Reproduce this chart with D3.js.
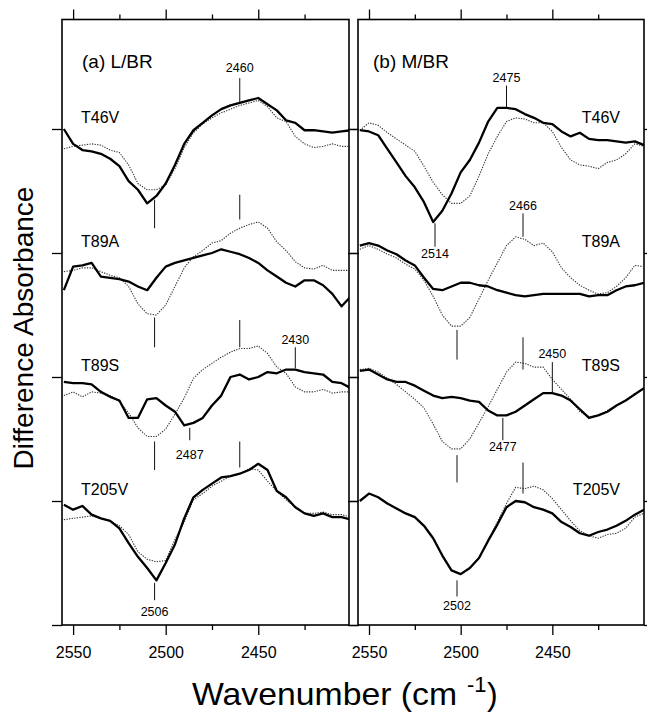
<!DOCTYPE html>
<html>
<head>
<meta charset="utf-8">
<script src="https://cdn.jsdelivr.net/npm/d3@7"></script>
<style>
body{margin:0;background:#fff;}
text{font-family:"Liberation Sans",Arial,Helvetica,sans-serif;fill:#000;}
</style>
</head>
<body>
<div id="chart"></div>
<script>
// wavenumber grid shared by every trace (cm-1)
const wavenumbers = [2555,2550,2545,2540,2535,2530,2525,2520,2515,2510,2505,2500,2495,2490,2485,2480,
                     2475,2470,2465,2460,2455,2450,2445,2440,2435,2430,2425,2420,2415,2410,2405,2400];
const mutants = ["T46V","T89A","T89S","T205V"];
const offsets = [4,3,2,1];
const majorTicks = [2550,2500,2450];
const minorTicks = [2525,2475,2425];

// (a) L/BR, thick solid and thin dotted traces (difference absorbance, one tick = 1 unit)
const lbr_T46V_solid  = [0.00,-0.12,-0.17,-0.18,-0.20,-0.24,-0.30,-0.42,-0.49,-0.60,-0.54,-0.44,-0.29,-0.12,-0.01,0.05,0.11,0.16,0.19,0.21,0.23,0.25,0.20,0.15,0.07,0.05,-0.01,-0.01,-0.02,-0.03,-0.02,-0.01];
const lbr_T46V_dotted = [-0.16,-0.14,-0.13,-0.12,-0.13,-0.17,-0.19,-0.29,-0.44,-0.49,-0.49,-0.45,-0.32,-0.15,-0.03,0.04,0.09,0.13,0.16,0.19,0.21,0.23,0.18,0.09,0.06,-0.06,-0.12,-0.15,-0.14,-0.12,-0.14,-0.14];
const lbr_T89A_solid  = [-0.30,-0.11,-0.10,-0.08,-0.19,-0.20,-0.21,-0.23,-0.27,-0.30,-0.20,-0.11,-0.08,-0.06,-0.04,-0.02,0.00,0.03,0.01,-0.01,-0.04,-0.08,-0.14,-0.19,-0.24,-0.27,-0.22,-0.22,-0.26,-0.33,-0.43,-0.35];
const lbr_T89A_dotted = [-0.15,-0.14,-0.12,-0.12,-0.15,-0.18,-0.20,-0.27,-0.41,-0.49,-0.50,-0.42,-0.27,-0.12,-0.03,0.02,0.08,0.10,0.16,0.20,0.23,0.25,0.20,0.09,0.02,-0.07,-0.12,-0.13,-0.10,-0.14,-0.14,-0.14];
const lbr_T89S_solid  = [-0.04,-0.05,-0.05,-0.06,-0.12,-0.16,-0.19,-0.33,-0.33,-0.18,-0.17,-0.23,-0.28,-0.39,-0.37,-0.33,-0.23,-0.15,0.00,0.02,-0.02,0.00,0.04,0.03,0.06,0.06,0.04,0.03,0.02,-0.04,-0.05,-0.09];
const lbr_T89S_dotted = [-0.15,-0.12,-0.16,-0.12,-0.13,-0.15,-0.20,-0.29,-0.41,-0.48,-0.48,-0.42,-0.30,-0.17,-0.01,0.06,0.11,0.16,0.20,0.23,0.23,0.25,0.19,0.08,0.03,-0.08,-0.12,-0.12,-0.10,-0.13,-0.12,-0.12];
const lbr_T205V_solid = [-0.03,-0.07,-0.04,-0.11,-0.14,-0.16,-0.22,-0.34,-0.45,-0.54,-0.64,-0.50,-0.35,-0.14,0.03,0.09,0.14,0.19,0.20,0.22,0.25,0.30,0.25,0.08,0.03,-0.05,-0.10,-0.12,-0.10,-0.13,-0.13,-0.15];
const lbr_T205V_dotted= [-0.15,-0.14,-0.13,-0.12,-0.14,-0.16,-0.20,-0.27,-0.41,-0.47,-0.49,-0.48,-0.31,-0.17,0.01,0.06,0.12,0.16,0.20,0.22,0.26,0.25,0.16,0.08,0.01,-0.05,-0.10,-0.10,-0.09,-0.11,-0.11,-0.13];

// (b) M/BR
const mbr_T46V_solid  = [-0.01,-0.02,-0.05,-0.16,-0.27,-0.38,-0.47,-0.59,-0.75,-0.66,-0.52,-0.35,-0.25,-0.11,0.06,0.17,0.17,0.16,0.12,0.09,0.05,0.04,-0.02,-0.06,-0.03,-0.08,-0.09,-0.09,-0.10,-0.11,-0.10,-0.13];
const mbr_T46V_dotted = [-0.01,0.05,0.03,-0.03,-0.08,-0.13,-0.18,-0.30,-0.43,-0.53,-0.60,-0.60,-0.54,-0.38,-0.20,-0.06,0.06,0.09,0.08,0.05,0.05,-0.02,-0.15,-0.25,-0.29,-0.30,-0.32,-0.27,-0.25,-0.20,-0.12,-0.14];
const mbr_T89A_solid  = [0.06,0.08,0.06,0.02,-0.01,-0.06,-0.10,-0.20,-0.29,-0.30,-0.27,-0.24,-0.24,-0.26,-0.27,-0.30,-0.32,-0.34,-0.35,-0.34,-0.33,-0.33,-0.33,-0.33,-0.33,-0.35,-0.34,-0.34,-0.30,-0.27,-0.26,-0.24];
const mbr_T89A_dotted = [0.03,0.06,0.03,-0.01,-0.04,-0.09,-0.13,-0.22,-0.35,-0.50,-0.59,-0.59,-0.52,-0.37,-0.22,-0.08,0.06,0.13,0.11,0.06,0.08,0.01,-0.12,-0.20,-0.26,-0.30,-0.33,-0.32,-0.27,-0.20,-0.10,-0.11];
const mbr_T89S_solid  = [0.05,0.06,0.02,-0.02,-0.04,-0.04,-0.07,-0.11,-0.15,-0.17,-0.16,-0.17,-0.19,-0.20,-0.27,-0.31,-0.31,-0.28,-0.23,-0.18,-0.13,-0.13,-0.15,-0.19,-0.26,-0.33,-0.31,-0.28,-0.23,-0.19,-0.14,-0.09];
const mbr_T89S_dotted = [0.06,0.07,0.04,-0.01,-0.06,-0.12,-0.18,-0.25,-0.38,-0.52,-0.58,-0.58,-0.50,-0.37,-0.24,-0.10,0.04,0.12,0.11,0.08,0.08,-0.02,-0.10,-0.18,-0.28,-0.32,-0.31,-0.27,-0.23,-0.19,-0.13,-0.09];
const mbr_T205V_solid = [0.00,0.06,0.03,-0.02,-0.06,-0.10,-0.13,-0.20,-0.30,-0.44,-0.56,-0.59,-0.54,-0.46,-0.32,-0.19,-0.05,0.00,-0.01,-0.05,-0.07,-0.10,-0.17,-0.21,-0.26,-0.28,-0.25,-0.23,-0.20,-0.16,-0.11,-0.07];
const mbr_T205V_dotted= [0.00,0.06,0.03,-0.02,-0.06,-0.10,-0.13,-0.20,-0.30,-0.44,-0.56,-0.59,-0.54,-0.46,-0.32,-0.17,-0.02,0.11,0.10,0.12,0.09,0.02,-0.07,-0.16,-0.24,-0.28,-0.30,-0.27,-0.26,-0.22,-0.13,-0.10];

// peak markers: [wavenumber, from, to, label, label baseline] in absolute y units
const lbr_marks = [[2460,4.21,4.41,"2460",4.46],[2506,3.20,3.43,"",0],[2460,3.27,3.47,"",0],[2506,2.24,2.48,"",0],
                   [2460,2.24,2.46,"",0],[2430,2.07,2.24,"2430",2.27],[2506,1.25,1.48,"",0],[2487,1.49,1.59,"2487",1.34],
                   [2460,1.27,1.48,"",0],[2506,0.20,0.34,"2506",0.07]];
const mbr_marks = [[2475,4.17,4.35,"2475",4.38],[2514,3.05,3.24,"2514",2.96],[2466,3.13,3.32,"2466",3.35],[2502,2.14,2.38,"",0],
                   [2466,2.06,2.32,"",0],[2450,1.87,2.12,"2450",2.15],[2477,1.49,1.67,"2477",1.40],[2502,1.15,1.37,"",0],
                   [2466,1.06,1.31,"",0],[2502,0.23,0.36,"2502",0.12]];

let svg = d3.select("#chart").append("svg")
  .attr("width",647).attr("height",713);

let y = d3.scaleLinear().domain([0,4.883]).range([625,19.5]);

draw_panel({id:"a", left:62, right:349, domain:[2556,2401], title:"(a) L/BR", titleX:82,
            solid:[lbr_T46V_solid,lbr_T89A_solid,lbr_T89S_solid,lbr_T205V_solid],
            dotted:[lbr_T46V_dotted,lbr_T89A_dotted,lbr_T89S_dotted,lbr_T205V_dotted],
            marks:lbr_marks, labelX:81, labelAnchor:"start"});
draw_panel({id:"b", left:358, right:644, domain:[2556,2400], title:"(b) M/BR", titleX:373,
            solid:[mbr_T46V_solid,mbr_T89A_solid,mbr_T89S_solid,mbr_T205V_solid],
            dotted:[mbr_T46V_dotted,mbr_T89A_dotted,mbr_T89S_dotted,mbr_T205V_dotted],
            marks:mbr_marks, labelX:620, labelAnchor:"end"});

function draw_panel(p){
  let x = d3.scaleLinear().domain(p.domain).range([p.left,p.right]);
  let g = svg.append("g");

  g.append("clipPath").attr("id","clip"+p.id)
    .append("rect").attr("x",p.left).attr("y",19.5)
    .attr("width",p.right-p.left).attr("height",625-19.5);

  // axes, ticks pointing outward
  let axes = [
    d3.axisBottom(x).tickValues(majorTicks).tickSize(10).tickPadding(12).tickFormat(d3.format("d")),
    d3.axisBottom(x).tickValues(minorTicks).tickSize(5).tickFormat(""),
  ];
  axes.forEach(function(a){
    g.append("g").attr("transform","translate(0,625)").call(a);
  });
  g.append("g").attr("transform","translate(0,19.5)")
    .call(d3.axisTop(x).tickValues(majorTicks).tickSize(10).tickFormat(""));
  g.append("g").attr("transform","translate(0,19.5)")
    .call(d3.axisTop(x).tickValues(minorTicks).tickSize(5).tickFormat(""));
  g.append("g").attr("transform","translate("+p.left+",0)")
    .call(d3.axisLeft(y).tickValues([0,1,2,3,4]).tickSize(10).tickFormat(""));
  g.append("g").attr("transform","translate("+p.right+",0)")
    .call(d3.axisRight(y).tickValues([0,1,2,3,4]).tickSize(10).tickFormat(""));

  g.selectAll(".domain").remove();
  g.selectAll(".tick line").attr("stroke","#000").attr("stroke-width",1.3);
  g.selectAll(".tick text").attr("font-size",16).attr("font-family","Liberation Sans, Arial, sans-serif").attr("fill","#000");

  g.append("rect").attr("x",p.left).attr("y",19.5)
    .attr("width",p.right-p.left).attr("height",625-19.5)
    .attr("fill","none").attr("stroke","#000").attr("stroke-width",1.6);

  let plot = g.append("g").attr("clip-path","url(#clip"+p.id+")");

  for (let i=0;i<mutants.length;i++){
    let off = offsets[i];
    let line = d3.line()
      .x(function(d,j){ return x(wavenumbers[j]); })
      .y(function(d){ return y(off+d); });

    plot.append("path").datum(p.dotted[i])
      .attr("d",line).attr("fill","none")
      .attr("stroke","#333").attr("stroke-width",1.1)
      .attr("stroke-dasharray","1.3,1.3");
    plot.append("path").datum(p.solid[i])
      .attr("d",line).attr("fill","none")
      .attr("stroke","#000").attr("stroke-width",2.3)
      .attr("stroke-linejoin","round");

    g.append("text").attr("x",p.labelX).attr("y",y(off+0.05))
      .attr("text-anchor",p.labelAnchor).attr("font-size",16)
      .text(mutants[i]);
  }

  g.selectAll("line.mark").data(p.marks).enter()
    .append("line").attr("class","mark")
    .attr("x1",function(d){return x(d[0]);}).attr("x2",function(d){return x(d[0]);})
    .attr("y1",function(d){return y(d[1]);}).attr("y2",function(d){return y(d[2]);})
    .attr("stroke","#111").attr("stroke-width",1);

  g.selectAll("text.mark").data(p.marks.filter(function(d){return d[3]!=="";})).enter()
    .append("text").attr("class","mark")
    .attr("x",function(d){return x(d[0]);})
    .attr("y",function(d){return y(d[4]);})
    .attr("text-anchor","middle").attr("font-size",12.5)
    .text(function(d){return d[3];});

  g.append("text").attr("x",p.titleX).attr("y",67.5)
    .attr("font-size",19).text(p.title);
}

// axis titles
svg.append("text").attr("transform","translate(33,328) rotate(-90)")
  .attr("text-anchor","middle").attr("font-size",28)
  .text("Difference Absorbance");

svg.append("text").attr("x",192).attr("y",705)
  .attr("font-size",32).attr("textLength",265).attr("lengthAdjust","spacingAndGlyphs")
  .text("Wavenumber (cm");
svg.append("text").attr("x",467).attr("y",692)
  .attr("font-size",22).text("-1");
svg.append("text").attr("x",487).attr("y",705)
  .attr("font-size",32).text(")");
</script>
</body>
</html>
